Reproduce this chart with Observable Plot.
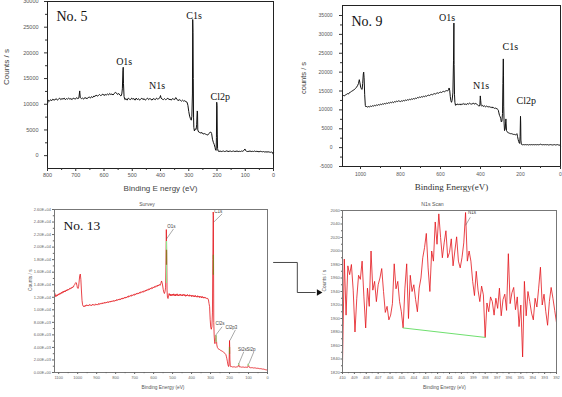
<!DOCTYPE html>
<html>
<head>
<meta charset="utf-8">
<script src="https://cdn.jsdelivr.net/npm/d3@7"></script>
<script src="https://cdn.jsdelivr.net/npm/@observablehq/plot@0.6"></script>
<style>
  html, body { margin: 0; padding: 0; background: #fff; }
  #fig { position: relative; width: 562px; height: 397px; overflow: hidden; background: #fff; }
  #fig svg { position: absolute; }
</style>
</head>
<body>
<div id="fig"></div>
<script>
// ---------- XPS survey of sample No. 5: [binding energy (eV), counts/s] ----------
const no5 = [[800,10100],[797,10800],[793,10600],[789,10900],[785,10700],[781,11000],[777,10800],[773,10900],[769,11100],[765,10800],[761,11000],[757,11200],[753,10900],[749,11100],[745,11000],[741,11200],[737,10900],[733,11100],[729,11000],[725,11200],[721,11000],[717,11100],[713,10900],[709,11200],[705,11100],[701,11000],[697,11300],[693,11100],[689,11200],[686,12600],[684,11300],[680,11100],[676,11200],[672,11000],[668,11300],[664,11200],[660,11100],[656,11300],[652,11400],[648,11200],[644,11500],[640,11300],[636,11600],[632,11500],[628,11800],[624,11600],[620,11700],[616,11900],[612,11700],[608,11800],[604,12000],[600,11700],[596,11900],[592,11800],[588,12000],[584,11800],[580,12100],[576,11900],[572,12000],[568,11800],[564,12100],[560,12300],[556,12200],[552,11900],[548,12100],[544,11800],[540,11600],[537,12000],[535,13000],[533,16500],[532,17200],[531,14000],[529,11500],[526,10900],[522,11100],[518,10800],[514,11200],[510,11000],[506,10900],[502,11200],[498,11000],[494,11100],[490,10800],[486,11200],[482,10900],[478,11100],[474,10800],[470,11000],[466,11200],[462,10900],[458,11100],[454,10800],[450,11000],[446,11200],[442,10900],[438,11100],[434,11000],[430,10800],[426,11100],[422,11000],[418,10900],[414,11200],[410,11000],[406,11100],[402,11300],[400,11700],[398,11200],[394,11000],[390,10900],[386,11100],[382,10900],[378,11000],[374,11200],[370,10900],[366,11000],[362,10800],[358,11100],[354,11000],[350,10900],[346,11300],[342,11000],[338,10700],[334,10900],[330,10800],[326,10600],[322,10800],[318,10600],[314,10700],[310,10500],[306,10400],[303,9800],[300,8600],[297,7700],[294,7200],[291,6900],[289,7600],[287,12000],[286,26500],[285,24000],[284,15000],[283,7500],[282,5500],[280,4800],[277,5200],[274,5100],[272,6000],[270,8700],[269,8500],[268,5000],[265,4600],[261,4500],[257,4400],[253,4500],[249,4200],[245,4300],[241,4200],[237,4100],[233,4000],[229,4300],[225,4500],[222,4600],[219,4300],[216,3200],[213,2600],[210,2200],[207,1600],[205,1100],[203,1000],[202,3500],[201,10400],[200,9800],[199,4200],[198,1400],[196,900],[193,800],[189,900],[185,800],[181,850],[177,900],[173,800],[169,850],[165,950],[161,800],[157,850],[153,900],[149,800],[145,850],[141,900],[137,800],[133,850],[129,900],[125,800],[121,850],[117,800],[113,900],[109,850],[105,1000],[101,1300],[99,1000],[95,850],[91,800],[87,850],[83,900],[79,800],[75,850],[71,800],[67,900],[63,800],[59,850],[55,800],[51,750],[47,850],[43,800],[39,750],[35,800],[31,700],[27,750],[23,700],[19,750],[15,700],[11,650],[7,700],[3,600],[1,300],[0,500]];
const no5Peaks = [["O1s",557,18200],["N1s",441,13500],["C1s",309,27300],["Cl2p",223,11400]];
const no5XTicks = [800,700,600,500,400,300,200,100,0];
const no5YTicks = [0,5000,10000,15000,20000,25000,30000];

// ---------- XPS survey of sample No. 9 ----------
const no9 = [[1090,13600],[1085,13800],[1080,13700],[1075,14000],[1070,14100],[1065,14300],[1060,14200],[1055,14600],[1050,14700],[1045,14900],[1040,15000],[1035,15300],[1030,15400],[1025,15700],[1020,16000],[1015,16400],[1010,17000],[1006,18000],[1003,17200],[999,16000],[996,15600],[992,15400],[989,17000],[986,19500],[984,20000],[982,18500],[979,14000],[976,11200],[973,10800],[970,11000],[965,10700],[960,10900],[955,10800],[950,11000],[945,10900],[940,11100],[935,11000],[930,11200],[925,11100],[920,11300],[915,11200],[910,11400],[905,11300],[900,11500],[895,11400],[890,11600],[885,11500],[880,11700],[875,11600],[870,11800],[865,11700],[860,11900],[855,11800],[850,12000],[845,11900],[840,12100],[835,11900],[830,12200],[825,12100],[820,12300],[815,12200],[810,12400],[805,12300],[800,12200],[795,12400],[790,12300],[785,12500],[780,12400],[775,12600],[770,12500],[765,12700],[760,12600],[755,12800],[750,12700],[745,12900],[740,12800],[735,13000],[730,12900],[725,13100],[720,13000],[715,13300],[710,13200],[705,13400],[700,13300],[695,13500],[690,13400],[685,13600],[680,13500],[675,13700],[670,13600],[665,13800],[660,13900],[655,13800],[650,14000],[645,14100],[640,14000],[635,14200],[630,14300],[625,14200],[620,14400],[615,14500],[610,14400],[605,14600],[600,14700],[595,14600],[590,14800],[585,14900],[580,14800],[575,15000],[570,15100],[565,15000],[560,15300],[557,15800],[554,15200],[551,13500],[548,12400],[545,12000],[542,12500],[538,14500],[535,23000],[533,33000],[532,22000],[530,14000],[528,12000],[525,11200],[522,11500],[518,11300],[514,11600],[510,11400],[506,11500],[502,11300],[498,11600],[494,11400],[490,11500],[486,11700],[482,11400],[478,11600],[474,11500],[470,11400],[466,11700],[462,11500],[458,11600],[454,11800],[450,11600],[446,11500],[442,11700],[438,11600],[434,11800],[430,11500],[426,11700],[422,11600],[418,11500],[414,11300],[410,11100],[406,11000],[403,11300],[401,13700],[399,12500],[397,11200],[394,11000],[390,11200],[386,10900],[382,11100],[378,11000],[374,10800],[370,11000],[366,10900],[362,10700],[358,10900],[354,10800],[350,10700],[346,10600],[342,10800],[338,10500],[334,10600],[330,10400],[326,10500],[322,10300],[318,10400],[314,10100],[311,9900],[308,9200],[305,8500],[302,8200],[299,7800],[296,6800],[293,7000],[290,9000],[288,17000],[286,23500],[285,19000],[284,11000],[282,6500],[280,4500],[278,4700],[276,5200],[274,7000],[273,7600],[272,6500],[270,4500],[267,4200],[263,4000],[259,3900],[255,3800],[250,3700],[245,3700],[240,3600],[235,3500],[230,3500],[225,3400],[221,3500],[218,3700],[215,3000],[212,2200],[209,1600],[206,1200],[204,1100],[202,3000],[200,8300],[199,6500],[198,2000],[196,900],[193,800],[190,750],[185,800],[180,750],[175,800],[170,750],[165,800],[160,700],[155,800],[150,750],[145,800],[140,750],[135,800],[130,750],[125,800],[120,750],[115,800],[110,750],[105,800],[100,900],[95,800],[90,750],[85,800],[80,750],[75,800],[70,750],[65,800],[60,700],[55,750],[50,800],[45,750],[40,700],[35,750],[30,800],[25,700],[20,750],[15,800],[10,700],[5,650],[2,750],[0,500]];
const no9Peaks = [["O1s",607,34500],["N1s",437,16400],["C1s",290,26600],["Cl2p",220,12500]];
const no9XTicks = [1000,800,600,400,200,0];
const no9YTicks = [-5000,0,5000,10000,15000,20000,25000,30000,35000];

// ---------- XPS survey of sample No. 13 ----------
const no13 = [[1122,12000],[1120,12600],[1118,12100],[1115,12300],[1112,12150],[1109,12400],[1106,12250],[1103,12500],[1100,12350],[1097,12600],[1094,12450],[1091,12700],[1088,12550],[1085,12800],[1082,12650],[1079,12900],[1076,12750],[1073,13000],[1070,12850],[1067,13050],[1064,12900],[1061,13150],[1058,13000],[1055,13250],[1052,13100],[1049,13300],[1046,13200],[1043,13400],[1040,13300],[1037,13500],[1034,13400],[1031,13600],[1028,13500],[1025,13700],[1022,13650],[1019,13900],[1016,14000],[1013,14200],[1010,14350],[1007,14300],[1004,13900],[1001,13500],[998,13400],[995,13700],[992,14600],[989,15500],[986,15700],[983,14800],[980,13000],[977,11500],[974,10800],[971,10600],[968,10500],[965,10650],[962,10500],[959,10700],[956,10600],[953,10800],[950,10650],[946,10750],[942,10600],[938,10850],[934,10700],[930,10800],[926,10650],[922,10900],[918,10750],[914,10850],[910,10700],[906,10950],[902,10800],[898,10900],[894,10750],[890,11000],[886,10850],[882,11050],[878,10900],[874,11100],[870,10950],[866,11150],[862,11000],[858,11200],[854,11050],[850,11250],[846,11100],[842,11300],[838,11150],[834,11350],[830,11200],[826,11400],[822,11250],[818,11450],[814,11300],[810,11500],[806,11350],[802,11550],[798,11400],[794,11650],[790,11500],[786,11700],[782,11550],[778,11750],[774,11600],[770,11850],[766,11700],[762,11900],[758,11750],[754,12000],[750,11850],[746,12050],[742,11900],[738,12150],[734,12000],[730,12250],[726,12100],[722,12300],[718,12150],[714,12400],[710,12250],[706,12450],[702,12300],[698,12550],[694,12400],[690,12650],[686,12500],[682,12700],[678,12550],[674,12800],[670,12650],[666,12900],[662,12750],[658,12950],[654,12800],[650,13050],[646,12900],[642,13150],[638,13000],[634,13250],[630,13100],[626,13350],[622,13200],[618,13450],[614,13300],[610,13550],[606,13400],[602,13650],[598,13500],[594,13750],[590,13600],[586,13850],[582,13700],[578,13950],[574,13800],[570,14050],[566,13900],[562,14200],[558,14600],[555,14300],[552,13800],[549,13200],[546,12800],[543,12600],[540,12900],[537,13500],[535,17000],[533,22800],[531,19000],[529,13000],[527,12000],[524,11800],[521,12300],[518,12600],[515,12300],[512,12500],[509,12200],[506,12450],[503,12250],[500,12500],[497,12300],[494,12550],[491,12250],[488,12450],[485,12200],[482,12500],[479,12300],[476,12550],[473,12250],[470,12400],[467,12200],[464,12450],[461,12300],[458,12500],[455,12250],[452,12400],[449,12200],[446,12450],[443,12300],[440,12500],[437,12250],[434,12400],[431,12150],[428,12350],[425,12200],[422,12450],[419,12250],[416,12350],[413,12150],[410,12400],[407,12200],[404,12300],[401,12100],[398,12350],[395,12150],[392,12300],[389,12100],[386,12250],[383,12050],[380,12300],[377,12100],[374,12200],[371,12000],[368,12250],[365,12050],[362,12150],[359,11950],[356,12200],[353,12000],[350,12100],[347,11900],[344,12150],[341,11950],[338,12050],[335,11850],[332,12050],[329,11900],[326,11950],[323,11800],[320,11900],[317,11750],[314,11800],[311,11600],[308,11000],[305,10500],[302,8500],[299,7200],[296,6900],[293,7300],[290,9500],[288,18000],[286,25600],[285,25000],[284,16000],[283,8000],[281,6000],[279,5000],[277,4600],[275,5000],[273,5600],[271,5900],[269,5200],[267,4400],[264,4000],[260,3800],[256,3700],[252,3650],[248,3550],[244,3500],[240,3400],[236,3350],[232,3250],[228,3150],[224,3050],[220,2900],[217,2600],[214,2200],[211,1700],[208,1200],[205,950],[203,1200],[201,3200],[200,5100],[199,4000],[198,2000],[196,1000],[193,900],[189,950],[185,880],[181,920],[177,870],[173,900],[169,850],[165,900],[161,860],[157,900],[154,1000],[152,1400],[150,1100],[148,900],[145,870],[141,900],[137,850],[133,880],[129,830],[125,870],[121,820],[117,860],[113,800],[109,850],[105,820],[103,950],[101,1350],[99,1100],[97,850],[94,800],[90,760],[86,790],[82,740],[78,770],[74,720],[70,750],[66,700],[62,720],[58,670],[54,690],[50,640],[46,660],[42,610],[38,620],[34,580],[30,590],[26,540],[22,550],[18,500],[14,490],[10,440],[6,420],[2,380],[0,360]];
// peak-region markers drawn over the peaks: [energy, low, high, kind]
const no13Regions = [[532,14200,20900,"fit"],[532,17100,19500,"core"],[285,15500,18700,"core"],[271,4800,5900,"fit"],[200,2900,4000,"core"],[152,1070,1400,"fit"],[101,960,1350,"fit"]];
// peak labels: [name, label energy, label counts, leader from energy, from counts, to energy, to counts]
const no13Labels = [
  ["O1s",528,23300,532,21300,495,22900],
  ["C1s",280,25700,283,24000,239,25300],
  ["Cl2s",274,7800,274,5900,239,7300],
  ["Cl2p3",221,7100,198,5100,169,6800],
  ["Si2s",156,3600,151,1400,125,3300],
  ["Si2p",111,3600,98,1400,72,3300]
];
const no13XTicks = [1100,1000,900,800,700,600,500,400,300,200,100,0];
const no13YTicks = [0,2000,4000,6000,8000,10000,12000,14000,16000,18000,20000,22000,24000,26000];

// ---------- N1s high-resolution scan of No. 13: counts at 0.15 eV steps from 410 eV ----------
const n1sStart = 410, n1sStep = 0.15;
const n1sCounts = [1832,1988,1905,1978,1965,1980,1942,1880,1930,1964,1958,1985,1932,1886,1945,1918,2000,1942,1955,1925,1950,1960,1974,1940,1909,1918,1898,1905,1922,1981,1944,1955,1925,1910,1886,1945,1981,1900,1964,1940,1950,1928,1910,1945,1960,1990,2005,2026,1975,1940,2000,1985,2043,2010,2055,2020,1990,2012,2030,1990,1998,2018,1978,2000,2021,1985,1975,1990,2012,2057,1985,2000,1985,1955,1934,1970,1942,1925,1948,1935,1872,1923,1910,1932,1925,1905,1930,1915,1945,1904,1928,1936,1912,1996,1922,1938,1946,1913,1932,1888,1920,1843,1955,1904,1940,1925,1908,1898,1930,1917,1945,1976,1920,1936,1910,1890,1925,1946,1930,1912,1894];
const n1sBaseline = [[404.9,1886],[398.0,1872]];
const n1sLabel = ["N1s",399.45,2057,399.65,2038,399.25,2050];
const n1sXTicks = [410,409,408,407,406,405,404,403,402,401,400,399,398,397,396,395,394,393,392];
const n1sYTicks = [1820,1840,1860,1880,1900,1920,1940,1960,1980,2000,2020,2040,2060];
// connector from the survey to the N1s scan, in the scan's own (eV, counts) space
const connector = [[415.8,1983],[413.8,1983],[413.8,1938.5],[412.3,1938.5]];
const connectorTip = [[412.0,1938.5]];

const SERIF = "'Liberation Serif', 'Times New Roman', serif";
const SANS = "'Liberation Sans', Arial, sans-serif";
const fig = document.getElementById("fig");

const halves = (ticks) => ticks.slice(1).map((t, i) => (t + ticks[i]) / 2);
const plain = d => String(d);
const sci = d => {
  if (d === 0) return "0.00E+00";
  const e = Math.floor(Math.log10(d));
  return (d / 10 ** e).toFixed(2) + "E+" + String(e).padStart(2, "0");
};
function place(svg, left, top) {
  svg.style.left = left + "px";
  svg.style.top = top + "px";
  svg.querySelectorAll('g[aria-label="spaced"] text').forEach(t => t.setAttribute("letter-spacing", "0.7"));
  fig.appendChild(svg);
}
const E = d => d[0], C = d => d[1];

// ---- panel: No. 5 ----
place(Plot.plot({
  width: 281, height: 195,
  marginTop: 1, marginRight: 8, marginBottom: 27, marginLeft: 47,
  style: {background: "transparent", fontFamily: SANS},
  x: {domain: [800, 0]},
  y: {domain: [-2500, 30000]},
  marks: [
    Plot.line(no5, {x: E, y: C, stroke: "#111", strokeWidth: 1}),
    Plot.frame({stroke: "#222"}),
    Plot.axisX(no5XTicks, {tickSize: 3, tickPadding: 2, fontSize: 5.5, stroke: "#333", fill: "#555", label: null, tickFormat: plain}),
    Plot.axisX(halves(no5XTicks), {tickSize: 2, stroke: "#333", label: null, tickFormat: () => ""}),
    Plot.axisY(no5YTicks, {tickSize: 3, tickPadding: 6, fontSize: 5.5, stroke: "#333", fill: "#555", label: null, tickFormat: plain}),
    Plot.axisY(halves(no5YTicks), {tickSize: 2, stroke: "#333", label: null, tickFormat: () => ""}),
    Plot.text(["Binding E nergy (eV)"], {frameAnchor: "bottom", dy: 22, text: d => d, fontSize: 8, fill: "#444", ariaLabel: "spaced"}),
    Plot.text(["Counts / s"], {frameAnchor: "left", dx: -41, rotate: -90, text: d => d, fontSize: 8, fill: "#444", ariaLabel: "spaced"}),
    Plot.text(["No. 5"], {frameAnchor: "top-left", dx: 9, dy: 15, textAnchor: "start", lineAnchor: "middle", text: d => d, fontFamily: SERIF, fontSize: 14, fill: "#111"}),
    Plot.text(no5Peaks, {x: d => d[1], y: d => d[2], text: d => d[0], textAnchor: "start", fontFamily: SERIF, fontSize: 10, fill: "#111"})
  ]
}), 0, 0);

// ---- panel: No. 9 ----
place(Plot.plot({
  width: 281, height: 195,
  marginTop: 5, marginRight: 2, marginBottom: 29, marginLeft: 61,
  style: {background: "transparent", fontFamily: SANS},
  x: {domain: [1090, 0]},
  y: {domain: [-5000, 37650]},
  marks: [
    Plot.line(no9, {x: E, y: C, stroke: "#111", strokeWidth: 1}),
    Plot.frame({stroke: "#222"}),
    Plot.axisX(no9XTicks, {tickSize: 3, tickPadding: 2.5, fontSize: 5, stroke: "#333", fill: "#555", label: null, tickFormat: plain}),
    Plot.axisX(halves(no9XTicks), {tickSize: 2, stroke: "#333", label: null, tickFormat: () => ""}),
    Plot.axisY(no9YTicks, {tickSize: 3, tickPadding: 7, fontSize: 5, stroke: "#333", fill: "#555", label: null, tickFormat: plain}),
    Plot.axisY(halves(no9YTicks), {tickSize: 2, stroke: "#333", label: null, tickFormat: () => ""}),
    Plot.text(["Binding Energy(eV)"], {frameAnchor: "bottom", dy: 23, text: d => d, fontFamily: SERIF, fontSize: 9, fill: "#333"}),
    Plot.text(["counts / s"], {frameAnchor: "left", dx: -39, dy: 8, rotate: -90, text: d => d, fontSize: 7.5, fill: "#444"}),
    Plot.text(["No. 9"], {frameAnchor: "top-left", dx: 9, dy: 16, textAnchor: "start", lineAnchor: "middle", text: d => d, fontFamily: SERIF, fontSize: 14, fill: "#111"}),
    Plot.text(no9Peaks, {x: d => d[1], y: d => d[2], text: d => d[0], textAnchor: "start", fontFamily: SERIF, fontSize: 10, fill: "#111"})
  ]
}), 281, 0);

// ---- panel: No. 13 survey ----
place(Plot.plot({
  width: 281, height: 202,
  marginTop: 14, marginRight: 14, marginBottom: 25, marginLeft: 54,
  style: {background: "transparent", fontFamily: SANS},
  x: {domain: [1122, 0]},
  y: {domain: [0, 26000]},
  marks: [
    Plot.line(no13, {x: E, y: C, stroke: "#e3141b", strokeWidth: 0.8}),
    Plot.ruleX(no13Regions, {x: d => d[0], y1: d => d[1], y2: d => d[2], stroke: d => d[3] === "fit" ? "#8fe88f" : "#8a7a22", strokeWidth: 1.2}),
    Plot.link(no13Labels, {x1: d => d[3], y1: d => d[4], x2: d => d[5], y2: d => d[6], stroke: "#555", strokeWidth: 0.5}),
    Plot.text(no13Labels, {x: d => d[1], y: d => d[2], text: d => d[0], textAnchor: "start", fontSize: 4.5, fill: "#444"}),
    Plot.frame({stroke: "#777"}),
    Plot.axisX(no13XTicks, {tickSize: 2, tickPadding: 2, fontSize: 4, stroke: "#666", fill: "#666", label: null, tickFormat: plain}),
    Plot.axisX(halves(no13XTicks), {tickSize: 1.2, stroke: "#666", label: null, tickFormat: () => ""}),
    Plot.axisY(no13YTicks, {tickSize: 2, tickPadding: 1.5, fontSize: 4, stroke: "#666", fill: "#666", label: null, tickFormat: sci}),
    Plot.axisY(halves(no13YTicks), {tickSize: 1.2, stroke: "#666", label: null, tickFormat: () => ""}),
    Plot.text(["Survey"], {frameAnchor: "top", dx: -14, dy: -7, text: d => d, fontSize: 5, fill: "#555"}),
    Plot.text(["Binding Energy (eV)"], {frameAnchor: "bottom", dx: 2, dy: 16, text: d => d, fontSize: 4.8, fill: "#555"}),
    Plot.text(["Counts / s"], {frameAnchor: "left", dx: -24, rotate: -90, text: d => d, fontSize: 4.8, fill: "#555"}),
    Plot.text(["No. 13"], {frameAnchor: "top-left", dx: 9, dy: 16, textAnchor: "start", lineAnchor: "middle", text: d => d, fontFamily: SERIF, fontSize: 13.5, fill: "#111"})
  ]
}), 0, 195);

// ---- panel: N1s scan ----
const n1s = n1sCounts.map((c, i) => [n1sStart - i * n1sStep, c]);
place(Plot.plot({
  width: 294, height: 202,
  marginTop: 15, marginRight: 6, marginBottom: 25, marginLeft: 74,
  style: {background: "transparent", fontFamily: SANS},
  x: {domain: [410, 392]},
  y: {domain: [1820, 2060]},
  marks: [
    Plot.line(n1s, {x: E, y: C, stroke: "#e3141b", strokeWidth: 0.8}),
    Plot.line(n1sBaseline, {x: E, y: C, stroke: "#6fe06f", strokeWidth: 1}),
    Plot.link([n1sLabel], {x1: d => d[3], y1: d => d[4], x2: d => d[5], y2: d => d[6], stroke: "#555", strokeWidth: 0.5}),
    Plot.text([n1sLabel], {x: d => d[1], y: d => d[2], text: d => d[0], textAnchor: "start", fontSize: 4.5, fill: "#444"}),
    Plot.frame({stroke: "#777"}),
    Plot.axisX(n1sXTicks, {tickSize: 2, tickPadding: 2, fontSize: 4, stroke: "#666", fill: "#666", label: null, tickFormat: plain}),
    Plot.axisX(halves(n1sXTicks), {tickSize: 1.2, stroke: "#666", label: null, tickFormat: () => ""}),
    Plot.axisY(n1sYTicks, {tickSize: 1.5, tickPadding: 1.2, fontSize: 4.2, stroke: "#666", fill: "#666", label: null, tickFormat: plain}),
    Plot.axisY(halves(n1sYTicks), {tickSize: 1, stroke: "#666", label: null, tickFormat: () => ""}),
    Plot.text(["N1s Scan"], {frameAnchor: "top", dx: -17, dy: -8, text: d => d, fontSize: 5.2, fill: "#555"}),
    Plot.text(["Binding Energy (eV)"], {frameAnchor: "bottom", dx: -5, dy: 16, text: d => d, fontSize: 4.8, fill: "#555"}),
    Plot.text(["Counts / s"], {frameAnchor: "left", dx: -18, rotate: -90, text: d => d, fontSize: 4.8, fill: "#555"}),
    Plot.line(connector, {x: E, y: C, stroke: "#333", strokeWidth: 0.9}),
    Plot.dot(connectorTip, {x: E, y: C, symbol: "triangle", rotate: 90, r: 2.4, fill: "#111", stroke: "none"})
  ]
}), 268, 195);
</script>
</body>
</html>
